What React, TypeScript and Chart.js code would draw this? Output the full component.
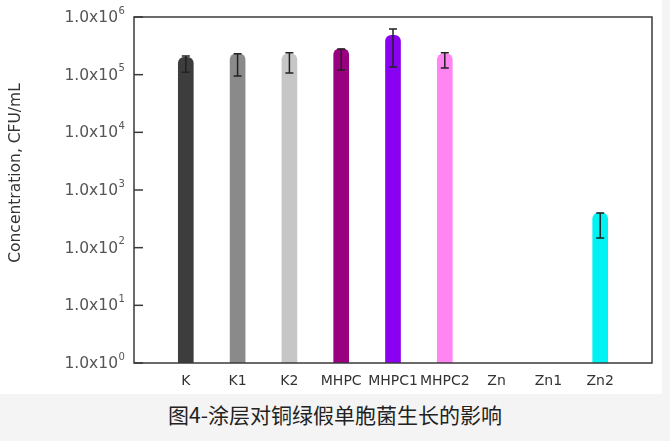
import React, { useEffect, useRef } from "react";
import { Chart, registerables } from "chart.js";
Chart.register(...registerables);

const categories = ["K", "K1", "K2", "MHPC", "MHPC1", "MHPC2", "Zn", "Zn1", "Zn2"];
const means: (number | null)[] = [2.0e5, 2.3e5, 2.3e5, 2.8e5, 4.8e5, 2.3e5, null, null, 4.0e2];
const errHigh: (number | null)[] = [2.1e5, 2.3e5, 2.4e5, 2.8e5, 6.2e5, 2.4e5, null, null, 4.0e2];
const errLow: (number | null)[] = [1.1e5, 0.95e5, 1.07e5, 1.2e5, 1.36e5, 1.31e5, null, null, 1.47e2];
const barColors = ["#3d3d3d", "#8a8a8a", "#c6c6c6", "#98007f", "#8a00f0", "#ff85f2", "#00f0f0", "#00f0f0", "#00f2f2"];
const yTickExponents = [0, 1, 2, 3, 4, 5, 6];
const yTitle = "Concentration, CFU/mL";
const caption = "图4-涂层对铜绿假单胞菌生长的影响";

const FONT = "'DejaVu Sans', 'Liberation Sans', sans-serif";

const decor = {
  id: "decor",
  afterDatasetsDraw(chart: any) {
    const { ctx, chartArea: a, scales } = chart;
    const y = scales.y;
    const x = scales.x;
    ctx.save();
    ctx.strokeStyle = "#222";
    ctx.lineWidth = 1.5;
    means.forEach((m, i) => {
      const hi = errHigh[i];
      const lo = errLow[i];
      if (m == null || hi == null || lo == null) return;
      const px = x.getPixelForValue(i + 1);
      const top = y.getPixelForValue(hi);
      const bot = y.getPixelForValue(lo);
      ctx.beginPath();
      ctx.moveTo(px, top);
      ctx.lineTo(px, bot);
      ctx.moveTo(px - 4, top);
      ctx.lineTo(px + 4, top);
      ctx.moveTo(px - 4, bot);
      ctx.lineTo(px + 4, bot);
      ctx.stroke();
    });
    ctx.strokeStyle = "#3a3a3a";
    ctx.lineWidth = 1.5;
    ctx.strokeRect(a.left, a.top, a.right - a.left, a.bottom - a.top);
    yTickExponents.forEach((e) => {
      const py = y.getPixelForValue(Math.pow(10, e));
      ctx.beginPath();
      ctx.moveTo(a.left, py);
      ctx.lineTo(a.left + 9, py);
      ctx.stroke();
      ctx.fillStyle = "#555";
      ctx.font = "15.5px " + FONT;
      ctx.textAlign = "right";
      ctx.textBaseline = "middle";
      ctx.fillText("1.0x10", 118, py + 1);
      ctx.font = "10px " + FONT;
      ctx.textAlign = "left";
      ctx.fillText(String(e), 118.5, py - 6);
    });
    ctx.translate(16, 173);
    ctx.rotate(-Math.PI / 2);
    ctx.font = "15.5px " + FONT;
    ctx.fillStyle = "#333";
    ctx.textAlign = "center";
    ctx.textBaseline = "middle";
    ctx.fillText(yTitle, 0, 0);
    ctx.restore();
  },
};

export default function App() {
  const ref = useRef<HTMLCanvasElement>(null);
  useEffect(() => {
    if (!ref.current) return;
    const labels = ["", ...categories, ""];
    const chart = new Chart(ref.current, {
      type: "bar",
      data: {
        labels,
        datasets: [
          {
            data: [null, ...means, null] as any,
            backgroundColor: ["#fff", ...barColors, "#fff"],
            barThickness: 15,
            borderRadius: 6,
            borderSkipped: "start",
          },
        ],
      },
      options: {
        animation: false,
        responsive: false,
        layout: { padding: { top: 17, right: 5, left: 0, bottom: 0 } },
        plugins: { legend: { display: false }, tooltip: { enabled: false } },
        scales: {
          x: {
            type: "category",
            offset: false,
            grid: { display: false, drawTicks: false },
            border: { display: false },
            ticks: { color: "#333", font: { family: FONT, size: 14 }, padding: 10, maxRotation: 0, autoSkip: false },
            afterFit: (s: any) => {
              s.height = 31;
            },
          },
          y: {
            type: "logarithmic",
            min: 1,
            max: 1e6,
            grid: { display: false, drawTicks: false },
            border: { display: false },
            ticks: { display: false },
            afterFit: (s: any) => {
              s.width = 134;
            },
          },
        },
      },
      plugins: [decor],
    });
    return () => chart.destroy();
  }, []);
  return (
    <div style={{ position: "absolute", left: 0, top: 0, width: 670, height: 441, background: "#f4f4f4" }}>
      <div style={{ position: "absolute", left: 0, top: 0, width: 662, height: 394, background: "#fff" }}>
        <canvas ref={ref} width={662} height={394} style={{ display: "block" }} />
      </div>
      <div
        style={{
          position: "absolute",
          left: 0,
          top: 402,
          width: 670,
          textAlign: "center",
          fontSize: 21,
          lineHeight: "24px",
          fontFamily: "'Noto Sans CJK SC', sans-serif",
          color: "#222",
        }}
      >
        {caption}
      </div>
    </div>
  );
}
